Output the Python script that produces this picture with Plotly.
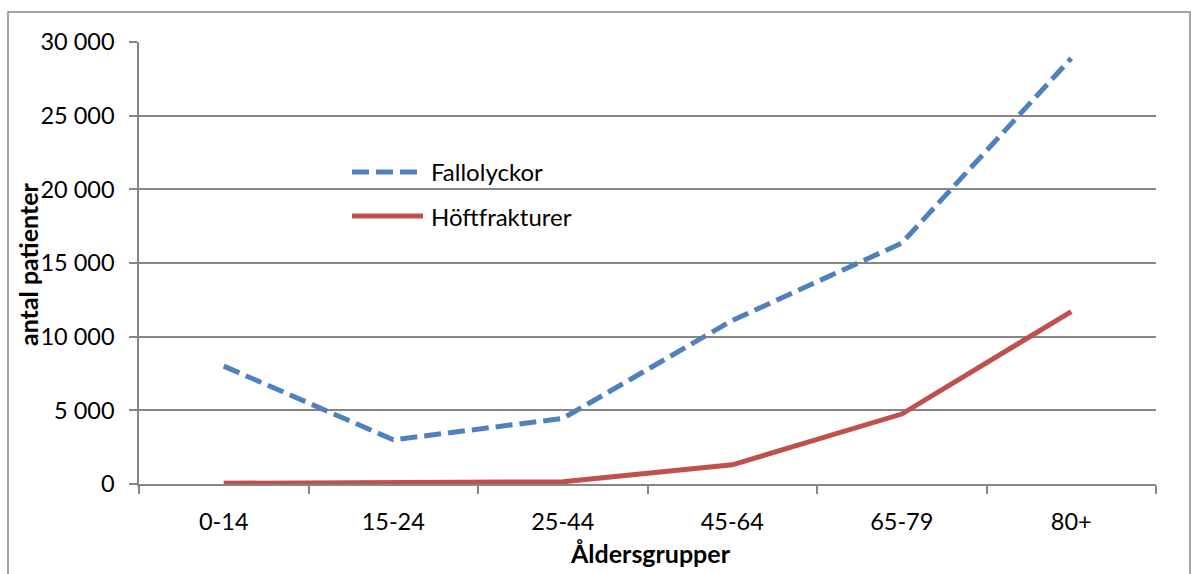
import plotly.graph_objects as go

categories = ["0-14", "15-24", "25-44", "45-64", "65-79", "80+"]
fallolyckor = [8000, 3000, 4450, 11100, 16350, 28900]
hoftfrakturer = [50, 60, 150, 1300, 4750, 11700]
series_names = ["Fallolyckor", "Höftfrakturer"]
y_ticks = [0, 5000, 10000, 15000, 20000, 25000, 30000]
y_tick_labels = ["0", "5 000", "10 000", "15 000", "20 000", "25 000", "30 000"]
x_title = "Åldersgrupper"
y_title = "antal patienter"

BLUE = "#4F81BD"
RED = "#C0504D"
GRID = "#868686"
FONT = "Lato, 'Open Sans', sans-serif"
DASH = "17px,7px"

W, H = 1191, 574
L, R, T, B = 139, 35, 42, 90
pw, ph = W - L - R, H - T - B

def px(x):
    return (x - L) / pw

def py(y):
    return (H - B - y) / ph

fig = go.Figure()
fig.add_trace(go.Scatter(x=categories, y=fallolyckor, name=series_names[0], mode="lines",
                         line=dict(color=BLUE, width=5, dash=DASH), showlegend=False))
fig.add_trace(go.Scatter(x=categories, y=hoftfrakturer, name=series_names[1], mode="lines",
                         line=dict(color=RED, width=5), showlegend=False))

# legend drawn inside plot
legend_rows = [(series_names[0], BLUE, DASH, 172), (series_names[1], RED, "solid", 216)]
shapes = []
annotations = []
for name, color, dash, ypx in legend_rows:
    shapes.append(dict(type="line", xref="paper", yref="paper", x0=px(352), x1=px(423),
                       y0=py(ypx), y1=py(ypx), line=dict(color=color, width=5, dash=dash)))
    annotations.append(dict(xref="paper", yref="paper", x=px(429), y=py(ypx), text=name,
                            showarrow=False, xanchor="left", yanchor="middle",
                            font=dict(family=FONT, size=24, color="#000000")))

# axis titles
annotations.append(dict(xref="paper", yref="paper", x=px(650), y=py(553), text="<b>" + x_title + "</b>",
                        showarrow=False, xanchor="center", yanchor="middle",
                        font=dict(family=FONT, size=25, color="#000000")))
annotations.append(dict(xref="paper", yref="paper", x=px(28), y=py(264), text="<b>" + y_title + "</b>",
                        showarrow=False, xanchor="center", yanchor="middle", textangle=-90,
                        font=dict(family=FONT, size=25, color="#000000")))

# outer chart border
shapes.append(dict(type="rect", xref="paper", yref="paper", x0=px(8), x1=px(1190), y0=py(600), y1=py(12),
                   line=dict(color=GRID, width=1.5), fillcolor="rgba(0,0,0,0)", layer="below"))

fig.update_layout(
    width=W, height=H,
    margin=dict(l=L, r=R, t=T, b=B, autoexpand=False),
    paper_bgcolor="white", plot_bgcolor="white",
    font=dict(family=FONT, size=23.5, color="#000000"),
    shapes=shapes, annotations=annotations,
    showlegend=False,
)
fig.update_xaxes(
    type="category", range=[-0.5, 5.5], tickson="boundaries", ticks="outside", ticklen=8,
    tickcolor=GRID, tickwidth=1.5, showline=True, linecolor=GRID, linewidth=1.5,
    showgrid=False, zeroline=False, ticklabelstandoff=16, automargin=False,
)
fig.update_yaxes(
    range=[0, 30000], tickvals=y_ticks, ticktext=y_tick_labels, ticks="outside", ticklen=8,
    tickcolor=GRID, tickwidth=1.5, showline=True, linecolor=GRID, linewidth=1.5,
    showgrid=True, gridcolor=GRID, gridwidth=1.5, zeroline=False, ticklabelstandoff=10,
    automargin=False,
)

fig.write_html("out.html")
